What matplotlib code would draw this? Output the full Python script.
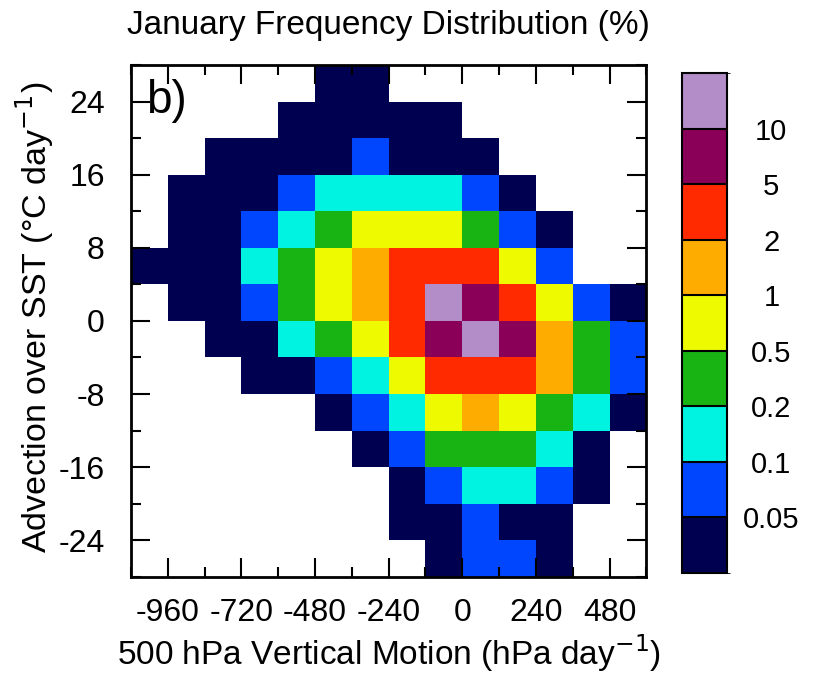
import numpy as np
import matplotlib
matplotlib.use('Agg')
import matplotlib.pyplot as plt
from matplotlib.colors import ListedColormap, BoundaryNorm
from matplotlib.ticker import MultipleLocator

plt.rcParams['font.family'] = ['Liberation Sans', 'DejaVu Sans']
plt.rcParams['axes.unicode_minus'] = False

# bin edges: 500 hPa omega (hPa/day) and SST advection (degC/day)
omega_edges = np.arange(-1080, 601, 120)
adv_edges = np.arange(28, -29, -4)   # top row first

nan = np.nan
# January frequency (%) per bin, rows from +28 down to -28
freq = np.array([
    [nan, nan, nan, nan, nan, 0.03, 0.03, nan, nan, nan, nan, nan, nan, nan],
    [nan, nan, nan, nan, 0.03, 0.04, 0.04, 0.04, 0.03, nan, nan, nan, nan, nan],
    [nan, nan, 0.02, 0.03, 0.04, 0.04, 0.06, 0.04, 0.04, 0.03, nan, nan, nan, nan],
    [nan, 0.02, 0.03, 0.04, 0.08, 0.12, 0.15, 0.15, 0.12, 0.07, 0.03, nan, nan, nan],
    [nan, 0.02, 0.04, 0.07, 0.15, 0.3, 0.6, 0.7, 0.6, 0.3, 0.08, 0.03, nan, nan],
    [0.02, 0.03, 0.04, 0.12, 0.3, 0.7, 1.5, 2.5, 3.0, 2.4, 0.7, 0.08, nan, nan],
    [nan, 0.02, 0.04, 0.07, 0.3, 0.8, 1.6, 4.0, 11.5, 7.0, 2.5, 0.7, 0.07, 0.03],
    [nan, nan, 0.03, 0.04, 0.15, 0.4, 0.9, 4.0, 8.0, 12.0, 6.5, 1.5, 0.3, 0.07],
    [nan, nan, nan, 0.03, 0.04, 0.08, 0.15, 0.8, 3.5, 4.5, 3.0, 1.2, 0.3, 0.06],
    [nan, nan, nan, nan, nan, 0.03, 0.07, 0.15, 0.8, 1.5, 0.8, 0.3, 0.12, 0.03],
    [nan, nan, nan, nan, nan, nan, 0.03, 0.07, 0.3, 0.4, 0.3, 0.15, 0.03, nan],
    [nan, nan, nan, nan, nan, nan, nan, 0.03, 0.08, 0.15, 0.12, 0.06, 0.02, nan],
    [nan, nan, nan, nan, nan, nan, nan, 0.02, 0.04, 0.06, 0.04, 0.02, nan, nan],
    [nan, nan, nan, nan, nan, nan, nan, nan, 0.03, 0.06, 0.06, 0.03, nan, nan],
])

levels = [0, 0.05, 0.1, 0.2, 0.5, 1, 2, 5, 10, 100]
level_labels = ['0.05', '0.1', '0.2', '0.5', '1', '2', '5', '10']
colors = ['#000050', '#0046ff', '#00f3e0', '#17b414', '#eefa00',
          '#ffac00', '#ff2a00', '#8a0058', '#b28dc8']

cmap = ListedColormap(colors)
norm = BoundaryNorm(levels, cmap.N)

fig = plt.figure(figsize=(8.14, 6.77), dpi=100)
ax = fig.add_axes([0.161, 0.148, 0.633, 0.756])
cax = fig.add_axes([0.838, 0.154, 0.055, 0.738])

mesh = ax.pcolormesh(omega_edges, adv_edges, np.ma.masked_invalid(freq),
                     cmap=cmap, norm=norm)

ax.set_xlim(-1080, 600)
ax.set_ylim(-28, 28)
ax.set_xticks([-960, -720, -480, -240, 0, 240, 480])
ax.set_yticks([-24, -16, -8, 0, 8, 16, 24])
ax.xaxis.set_minor_locator(MultipleLocator(120))
ax.yaxis.set_minor_locator(MultipleLocator(4))
ax.tick_params(which='both', direction='in', top=True, right=True,
               width=1.5, labelsize=23)
ax.tick_params(which='major', length=13.5)
ax.tick_params(which='minor', length=7)
ax.tick_params(axis='x', pad=15)
ax.tick_params(axis='y', pad=19)
for sp in ax.spines.values():
    sp.set_linewidth(2)

ax.set_title('January Frequency Distribution (%)', fontsize=24, pad=22)
ax.set_xlabel('500 hPa Vertical Motion (hPa day$^{-1}$)', fontsize=24,
              va='baseline')
ax.xaxis.set_label_coords(0.5, -0.172)
ax.set_ylabel('Advection over SST (\u00b0C day$^{-1}$)', fontsize=24.5,
              va='bottom')
ax.yaxis.set_label_coords(-0.146, 0.507)
ax.text(0.03, 0.906, 'b)', transform=ax.transAxes, fontsize=33,
        ha='left', va='baseline')

cbar = fig.colorbar(mesh, cax=cax, spacing='uniform', ticks=levels[1:-1],
                    drawedges=True)
cbar.ax.set_yticklabels(level_labels, ha='center')
cbar.ax.tick_params(length=0, pad=32, labelsize=21)
cbar.outline.set_linewidth(1.5)
cbar.dividers.set_linewidth(1.5)

fig.savefig('out.png', dpi=100)
